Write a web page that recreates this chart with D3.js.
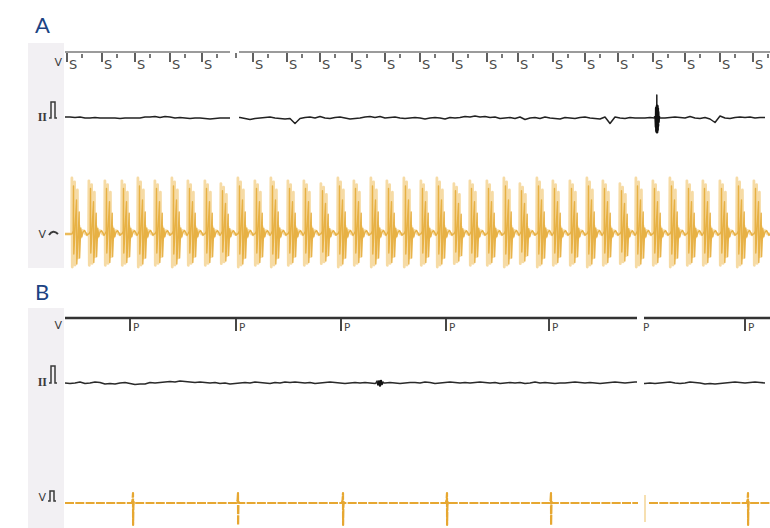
<!DOCTYPE html>
<html><head><meta charset="utf-8">
<script src="https://cdn.jsdelivr.net/npm/d3@7"></script>
<style>html,body{margin:0;padding:0;background:#fff;}svg{display:block;}</style>
</head><body>
<svg id="c" width="770" height="528"></svg>
<script>
// ---------------- DATA ----------------
const panelLabels = ["A", "B"];
// Panel A: pacing stimulus markers (seconds)
const stimTimesA = [0.02,0.37,0.70,1.05,1.37,1.88,2.22,2.55,2.87,3.20,3.55,3.88,4.22,4.53,4.88,5.20,5.53,5.88,6.20,6.55,6.88];
const stimLabel = "S";
const markerBreakA = [1.65, 1.74];
// Panel A lead II baseline samples (every 0.05 s, mV)
const leadIIA = [
 0.1,0.1,0.05,0.1,0,0,0.05,0,0,0,
 0,-0.05,0,0,0,0,0.1,0.1,0.15,0.05,
 0.15,0.1,0,0.05,0,-0.05,0,0,-0.05,-0.1,
 -0.05,0,0,0.05,0.1,0.05,-0.05,-0.15,-0.05,0,
 0.05,0.1,0,-0.05,-0.1,-0.05,-0.55,-0.05,0.05,0.1,
 0,0.15,0,-0.05,0.05,0.1,0,-0.1,-0.05,0,
 0.1,0.15,0.05,0.15,0,0.05,0.1,0,-0.05,0,
 0.05,0,-0.1,0,0.05,0,-0.1,0.05,0,0.05,
 0.15,0.1,0.2,0.1,0.15,0.05,0.1,-0.05,0,0.05,
 -0.05,0.1,-0.15,0,0.05,-0.05,0.1,0,-0.05,-0.1,
 0.05,0,-0.05,0.05,0.1,0,-0.05,-0.1,0.1,-0.55,
 0.1,0,-0.05,0.05,0,0,0,0.05,0,0,
 0,0.05,0.1,0.05,0,0.15,0,-0.05,0.05,-0.1,
 -0.45,0.2,0,-0.05,0.05,0.1,0.05,0.1,0,0.05,
 0.05];
const leadIIAArtifacts = [5.92];
const artifactShape = [[-0.025,0],[-0.012,0.1],[-0.008,-0.9],[-0.006,1.0],[-0.004,-1.3],[-0.002,2.3],[0,-1.4],[0.002,1.2],[0.004,-1.2],[0.006,1.0],[0.008,-0.8],[0.010,0.6],[0.013,-0.4],[0.016,0.1],[0.025,0]];
// Panel A lead V: ventricular complexes (onset times, s) and their relative sizes
const vBeatsA = [0.07,0.24,0.40,0.57,0.73,0.90,1.07,1.23,1.40,1.56,1.73,1.90,2.06,2.23,2.39,2.56,2.73,2.89,3.06,3.22,3.39,3.56,3.72,3.89,4.05,4.22,4.39,4.55,4.72,4.88,5.05,5.22,5.38,5.55,5.71,5.88,6.05,6.22,6.38,6.55,6.72,6.89];
const vBeatSizeA = [1,0.95,0.95,0.95,1,0.95,1,0.95,0.95,0.9,1,0.95,1,0.95,0.95,0.9,1,0.95,1,0.95,1,0.95,1,0.9,0.95,0.95,1,0.9,1,0.95,0.95,1,0.95,0.9,1,0.95,1,0.95,0.95,0.95,1,0.95];
const vComplexLight = [[0,0],[0.003,5.6],[0.007,-3.3],[0.030,5.2],[0.034,-3.1],[0.058,4.4],[0.062,-2.4],[0.075,0.8],[0.085,-0.4],[0.095,0.1],[0.11,0.35],[0.125,0.3],[0.14,0],[0.159,0]];
const vComplexDark = [[0,0],[0.012,0.3],[0.015,4.8],[0.018,-2.0],[0.045,3.4],[0.048,-3.0],[0.072,2.2],[0.076,-2.4],[0.088,0.6],[0.098,-0.3],[0.11,0.2],[0.125,0.35],[0.14,0.1],[0.15,-0.15],[0.159,0]];
// Panel B: sensed P markers
const pTimesB = [0.65,1.71,2.76,3.81,4.84,5.78,6.80];
const pHasTick = [true,true,true,true,true,false,true];
const pLabel = "P";
const markerBreakB = [5.72, 5.79];
// Panel B lead II baseline samples (every 0.05 s, mV)
const leadIIB = [
 0,-0.05,0,0.1,-0.05,0,0.1,0.05,-0.1,-0.05,
 -0.1,0,0.05,-0.05,-0.15,-0.1,-0.1,0.05,0,0.05,
 0.1,0.15,0.1,0.2,0.15,0.1,0.05,0.1,0.05,0,
 0.05,-0.05,0,-0.1,-0.05,0,0.05,0,0.1,0.05,
 0,-0.05,0.05,0,0.1,0.05,0.1,0.05,0,0.05,
 -0.05,0,0.05,0.1,0.05,0,-0.05,0,0.05,0,
 0.05,0,-0.05,-0.2,0,0.05,0,-0.05,0,0.05,
 0.05,0,0.1,0.05,-0.05,0,0.05,0.1,0.05,0,
 0.05,0,0.05,0.1,0.05,0,0.05,-0.05,0,0.05,
 0,0.05,-0.05,0,0.1,0,0.05,0,-0.05,0,
 0,0.05,0.1,0.05,0,0.05,0,-0.05,0,0.05,
 0.1,0.05,0,0.05,0.1,0,-0.05,0,-0.05,0,
 0.05,0.1,0,-0.05,0,0.1,0.05,0,-0.1,-0.05,
 -0.1,-0.05,0,0.05,0.1,0.05,0,0.05,0.1,0.05,
 0];
const leadIIBBlobs = [3.15];
const blobShape = [[-0.04,0],[-0.03,0.2],[-0.02,-0.2],[-0.01,0.15],[0,-0.25],[0.01,0.2],[0.02,-0.15],[0.03,0.1],[0.04,0]];
// Panel B lead V: paced/sensed deflections
const vSpikesB = [0.68,1.73,2.78,3.82,4.86,6.83];
const vSpikeShape = [[-0.012,0],[-0.004,0.3],[0,1.0],[0.001,-2.2],[0.004,-0.3],[0.008,0.1],[0.014,0]];
const vFaintB = [5.80];
const sampleStep = 0.05;
const stripDuration = 7.05;

// ---------------- CHART ----------------
const svg = d3.select("#c");
const W = 770, H = 528;
const x = d3.scaleLinear().domain([0, stripDuration]).range([65, 770]);

const yIIA = d3.scaleLinear().domain([-1.4, 2.3]).range([132, 95]);
const yVA  = d3.scaleLinear().domain([-3.4, 5.6]).range([268, 178]);
const yIIB = d3.scaleLinear().domain([-1, 1]).range([393, 373]);
const yVB  = d3.scaleLinear().domain([-2.2, 1.0]).range([525, 493]);

svg.append("rect").attr("width", W).attr("height", H).attr("fill", "#fff");
svg.append("defs").append("clipPath").attr("id","plot")
  .append("rect").attr("x",65).attr("y",0).attr("width",705).attr("height",H);

// grey label strips
svg.append("rect").attr("x",28).attr("y",43).attr("width",36).attr("height",225).attr("fill","#f2f0f3");
svg.append("rect").attr("x",28).attr("y",308).attr("width",36).attr("height",220).attr("fill","#f2f0f3");

// panel letters
svg.selectAll("text.panel").data(panelLabels).join("text")
  .attr("class","panel").attr("x",35).attr("y",(d,i)=> i===0 ? 33 : 300)
  .attr("font-family","Lato, 'Open Sans', sans-serif").attr("font-size",22)
  .attr("fill","#1c4383").text(d=>d);

// helpers
function samplesToPoints(samples){ return samples.map((v,i)=>[i*sampleStep, v]); }
function addEvents(pts, times, shape, halfWin, sizes){
  times.forEach((t,k)=>{
    const s = sizes ? sizes[k] : 1;
    pts = pts.filter(p => Math.abs(p[0]-t) > halfWin);
    shape.forEach(([dt,v]) => pts.push([t+dt, v*s]));
  });
  return pts.sort((a,b)=>a[0]-b[0]);
}
function applyBreak(pts, br){
  const out = [];
  let done = false;
  for (let i=0;i<pts.length;i++){
    const p = pts[i];
    if (p[0] > br[0] && p[0] < br[1]) continue;
    if (!done && p[0] >= br[1]){
      const prev = out.length ? out[out.length-1][1] : 0;
      out.push([br[0], prev]); out.push(null); out.push([br[1], p[1]]);
      done = true;
    }
    out.push(p);
  }
  return out;
}
function draw(pts, y, color, width, extra){
  const line = d3.line().defined(d=>d!==null).x(d=>x(d[0])).y(d=>y(d[1]));
  const p = svg.append("path").datum(pts).attr("d", line)
    .attr("fill","none").attr("stroke",color).attr("stroke-width",width)
    .attr("stroke-linejoin","round").attr("clip-path","url(#plot)");
  if (extra) extra(p);
  return p;
}

// ---- Panel A marker channel ----
const markerYA = 52;
[[0, markerBreakA[0]], [markerBreakA[1], stripDuration]].forEach(seg=>{
  svg.append("line").attr("x1",x(seg[0])).attr("x2",x(seg[1]))
    .attr("y1",markerYA).attr("y2",markerYA).attr("stroke","#7a7a7a").attr("stroke-width",1.6);
});
svg.append("line").attr("x1",x(markerBreakA[1])-3).attr("x2",x(markerBreakA[1])-3)
  .attr("y1",markerYA+1).attr("y2",markerYA+6).attr("stroke","#555").attr("stroke-width",1.6);
const sg = svg.selectAll("g.stim").data(stimTimesA).join("g").attr("class","stim")
  .attr("transform", d=>`translate(${x(d)},0)`);
sg.append("line").attr("x1",0).attr("x2",0).attr("y1",markerYA+1).attr("y2",markerYA+10)
  .attr("stroke","#444").attr("stroke-width",1.7);
sg.append("text").attr("x",2).attr("y",markerYA+16.5).attr("font-family","'DejaVu Sans', sans-serif")
  .attr("font-size",13).attr("fill","#4a4a4a").text(stimLabel);
sg.append("line").attr("x1",15).attr("x2",15).attr("y1",markerYA+2).attr("y2",markerYA+6)
  .attr("stroke","#555").attr("stroke-width",1.6);

// ---- Panel A lead II ----
let ptsIIA = addEvents(samplesToPoints(leadIIA), leadIIAArtifacts, artifactShape, 0.03);
ptsIIA = applyBreak(ptsIIA, markerBreakA);
draw(ptsIIA, yIIA, "#222", 1.5);
draw(addEvents([], leadIIAArtifacts, artifactShape.filter(d=>Math.abs(d[1])<1.5), 0), yIIA, "#111", 3);

// ---- Panel A lead V (tachycardia) ----
const ptsVAlight = addEvents([[0,0],[stripDuration,0]], vBeatsA.map(t=>t-0.004), vComplexLight, 0, vBeatSizeA);
const ptsVAdark  = addEvents([[0,0],[stripDuration,0]], vBeatsA, vComplexDark, 0, vBeatSizeA);
draw(ptsVAlight, yVA, "#f5d9a0", 2.8, p=>p.attr("stroke-opacity",0.95));
draw(ptsVAdark, yVA, "#e6ac3a", 1.4, p=>p.attr("stroke-opacity",0.9));

// ---- Panel B marker channel ----
const markerYB = 318;
[[0, markerBreakB[0]], [markerBreakB[1], stripDuration]].forEach(seg=>{
  svg.append("line").attr("x1",x(seg[0])).attr("x2",x(seg[1]))
    .attr("y1",markerYB).attr("y2",markerYB).attr("stroke","#333").attr("stroke-width",2.6);
});
const pg = svg.selectAll("g.pm").data(pTimesB).join("g").attr("class","pm")
  .attr("transform", d=>`translate(${x(d)},0)`);
pg.filter((d,i)=>pHasTick[i]).append("line").attr("x1",0).attr("x2",0)
  .attr("y1",markerYB).attr("y2",markerYB+13).attr("stroke","#333").attr("stroke-width",1.8);
pg.append("text").attr("x",(d,i)=> pHasTick[i] ? 3 : 0).attr("y",markerYB+13)
  .attr("font-family","'DejaVu Sans', sans-serif").attr("font-size",10.5).attr("fill","#444").text(pLabel);

// ---- Panel B lead II ----
let ptsIIB = addEvents(samplesToPoints(leadIIB), leadIIBBlobs, blobShape, 0.04);
ptsIIB = applyBreak(ptsIIB, markerBreakB);
draw(ptsIIB, yIIB, "#2a2a2a", 1.6);
draw(addEvents([], leadIIBBlobs, blobShape.slice(2,7), 0), yIIB, "#111", 2.4);

// ---- Panel B lead V ----
let ptsVB = addEvents([[0,0],[stripDuration,0]], vSpikesB, vSpikeShape, 0);
ptsVB = applyBreak(ptsVB, [markerBreakB[0]+0.01, markerBreakB[1]+0.05]);
draw(ptsVB, yVB, "#e6a731", 2.2, p=>p.attr("stroke-dasharray","9,1.3"));
svg.selectAll("line.faint").data(vFaintB).join("line").attr("class","faint")
  .attr("x1",d=>x(d)).attr("x2",d=>x(d)).attr("y1",yVB(0.8)).attr("y2",yVB(-1.9))
  .attr("stroke","#f4d89e").attr("stroke-width",1.6);

// ---- channel labels ----
const lab = svg.append("g").attr("fill","#3a3a3a");
function chanText(tx, ty, t, serif){
  lab.append("text").attr("x",tx).attr("y",ty).attr("text-anchor","end")
    .attr("font-family", serif ? "'Liberation Serif', serif" : "'DejaVu Sans', sans-serif")
    .attr("font-size", serif ? 12 : 11).attr("font-weight", serif ? "bold" : "normal").text(t);
}
function pulse(px, base, h){
  lab.append("path").attr("d",`M${px},${base} L${px+2},${base} L${px+2},${base-h} L${px+6},${base-h} L${px+6},${base} L${px+8},${base}`)
    .attr("fill","none").attr("stroke","#3a3a3a").attr("stroke-width",1.5);
}
chanText(62, 66, "V", false);
chanText(47, 121, "II", true); pulse(49, 118, 16);
chanText(46, 238, "V", false);
lab.append("path").attr("d","M49,235 Q53,229 58,234").attr("fill","none").attr("stroke","#3a3a3a").attr("stroke-width",2);
chanText(62, 329, "V", false);
chanText(47, 386, "II", true); pulse(49, 383, 17);
chanText(46, 501, "V", false); pulse(48, 501, 10);
</script>
</body></html>
